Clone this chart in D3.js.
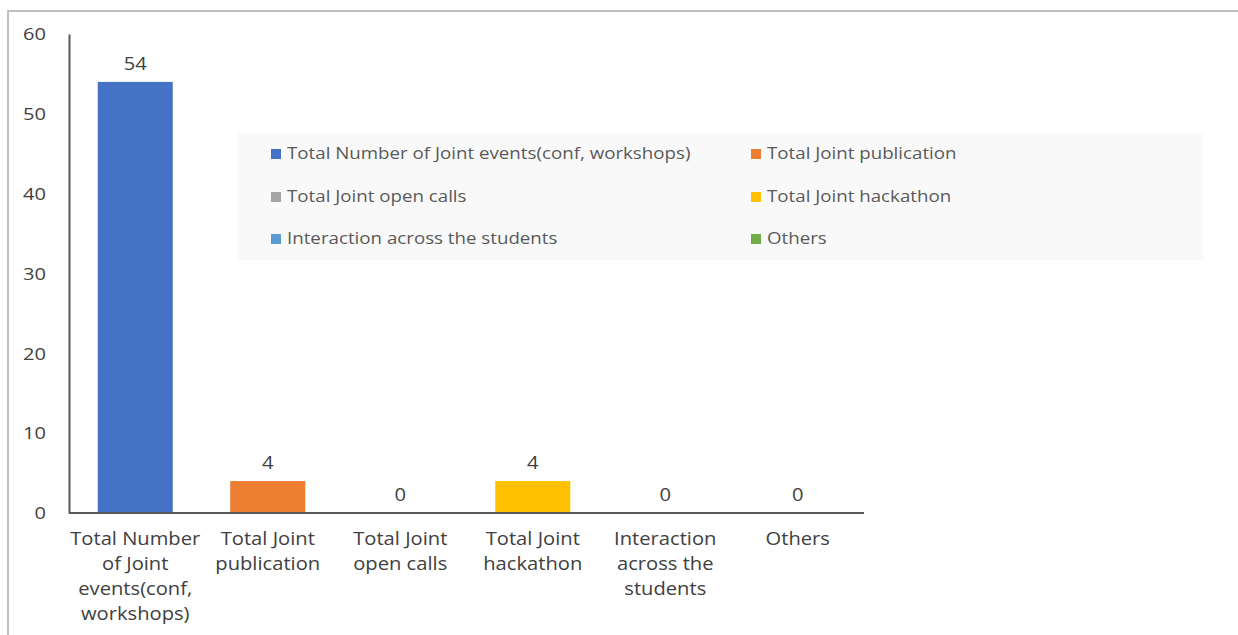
<!DOCTYPE html>
<html>
<head>
<meta charset="utf-8">
<script src="https://cdn.jsdelivr.net/npm/d3@7"></script>
<style>
  html, body { margin: 0; padding: 0; background: #fff; }
  svg { display: block; }
  text { font-family: "Open Sans", "Noto Sans", sans-serif; }
</style>
</head>
<body>
<svg id="chart" width="1238" height="635"></svg>
<script>
// Joint activity totals
const categories = [
  "Total Number of Joint events(conf, workshops)",
  "Total Joint publication",
  "Total Joint open calls",
  "Total Joint hackathon",
  "Interaction across the students",
  "Others"
];
const axisLabels = [
  ["Total Number", "of Joint", "events(conf,", "workshops)"],
  ["Total Joint", "publication"],
  ["Total Joint", "open calls"],
  ["Total Joint", "hackathon"],
  ["Interaction", "across the", "students"],
  ["Others"]
];
const values = [54, 4, 0, 4, 0, 0];
const colors = ["#4472c4", "#ed7d31", "#a5a5a5", "#ffc000", "#5b9bd5", "#70ad47"];
const yTicks = [0, 10, 20, 30, 40, 50, 60];

const svg = d3.select("#chart");

// outer frame (top and left edges)
svg.append("line").attr("x1", 7).attr("x2", 1238).attr("y1", 11).attr("y2", 11)
  .attr("stroke", "#c0c0c0").attr("stroke-width", 2);
svg.append("line").attr("x1", 8).attr("x2", 8).attr("y1", 10).attr("y2", 635)
  .attr("stroke", "#c0c0c0").attr("stroke-width", 2);

const plot = { left: 69, right: 864, top: 34, bottom: 513 };

const x = d3.scaleBand().domain(categories).range([plot.left, plot.right])
  .paddingInner(0.434).paddingOuter(0.217);
const y = d3.scaleLinear().domain([0, 60]).range([plot.bottom, plot.top]);

// text drawn slightly wide, like the original office chart renderer
const wide = (sx) => (px, py) => `translate(${px},${py}) scale(${sx},1)`;
const wideLabel = wide(1.12);
const wideTick = wide(1.25);
const wideLegend = wide(1.17);

// bars
svg.append("g").selectAll("rect").data(values).join("rect")
  .attr("x", (d, i) => x(categories[i]))
  .attr("width", x.bandwidth())
  .attr("y", d => y(d))
  .attr("height", d => y(0) - y(d))
  .attr("fill", (d, i) => colors[i]);

// value labels
svg.append("g").selectAll("text").data(values).join("text")
  .attr("transform", (d, i) => wideLabel(x(categories[i]) + x.bandwidth() / 2, y(d) - 12))
  .attr("text-anchor", "middle")
  .attr("font-size", 18)
  .attr("fill", "#404040")
  .text(d => d);

// y axis
const yAxis = svg.append("g").attr("transform", `translate(${plot.left},0)`)
  .call(d3.axisLeft(y).tickValues(yTicks).tickSize(0));
yAxis.select(".domain").attr("stroke", "#595959").attr("stroke-width", 2);
yAxis.selectAll(".tick text")
  .attr("x", 0).attr("dy", "0.36em")
  .attr("transform", wideTick(-23, 0))
  .attr("font-size", 16).attr("fill", "#404040")
  .attr("font-family", "'Open Sans', sans-serif");

// x axis
const xAxis = svg.append("g").attr("transform", `translate(0,${plot.bottom})`)
  .call(d3.axisBottom(x).tickSize(0).tickFormat(""));
xAxis.select(".domain").attr("stroke", "#595959").attr("stroke-width", 2)
  .attr("d", `M${plot.left},0H${plot.right}`);

// wrapped category labels
const labelG = svg.append("g");
categories.forEach((c, i) => {
  const t = labelG.append("text")
    .attr("transform", wideLabel(x(c) + x.bandwidth() / 2, plot.bottom + 32))
    .attr("text-anchor", "middle")
    .attr("font-size", 18)
    .attr("fill", "#404040");
  axisLabels[i].forEach((line, k) => {
    t.append("tspan").attr("x", 0)
      .attr("dy", k === 0 ? 0 : 25).text(line);
  });
});

// legend
const legend = svg.append("g");
legend.append("rect").attr("x", 238).attr("y", 133).attr("width", 965).attr("height", 127)
  .attr("fill", "#f9f9f9");
const colX = [271, 751];
const rowY = [159, 202, 244];
categories.forEach((c, i) => {
  const cx = colX[i % 2], cy = rowY[Math.floor(i / 2)];
  legend.append("rect").attr("x", cx).attr("y", cy - 10).attr("width", 10).attr("height", 10)
    .attr("fill", colors[i]);
  legend.append("text").attr("transform", wideLegend(cx + 16, cy))
    .attr("font-size", 16).attr("fill", "#595959").text(c);
});
</script>
</body>
</html>
